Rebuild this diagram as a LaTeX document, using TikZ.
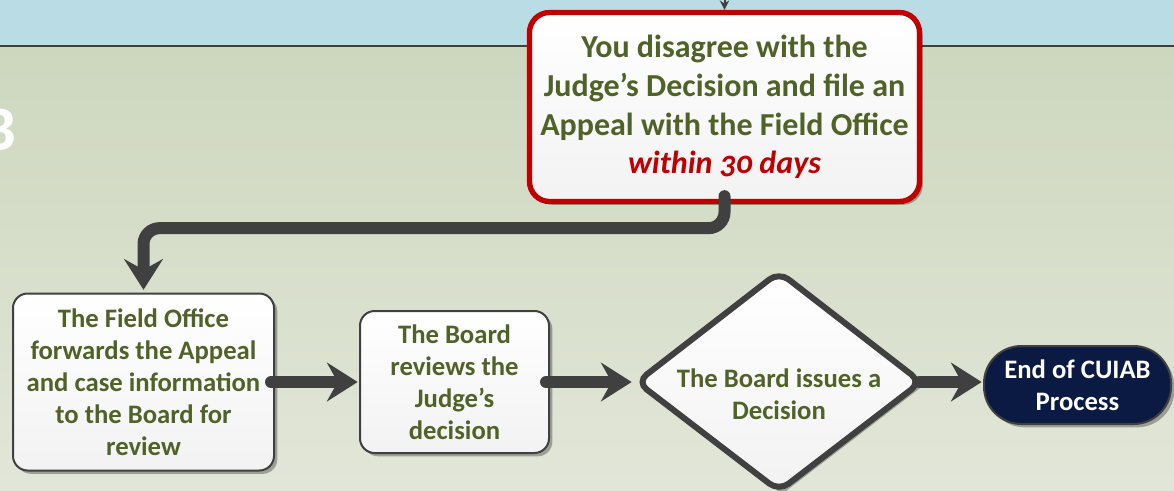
\documentclass[tikz,border=0pt]{standalone}
\usepackage{fontspec}
\setmainfont{Carlito}[Numbers=OldStyle]
\usetikzlibrary{arrows.meta,shadows}
\definecolor{band}{HTML}{B9DCE5}
\definecolor{bgtop}{HTML}{CDD7BE}
\definecolor{bgbot}{HTML}{E2E6D8}
\definecolor{olive}{HTML}{4F6228}
\definecolor{redb}{HTML}{C00000}
\definecolor{conn}{HTML}{404040}
\definecolor{navy}{HTML}{0B1A42}
\tikzset{
  shad/.style={drop shadow={opacity=0.3,shadow xshift=2.5pt,shadow yshift=-2.5pt,fill=black}},
  procbox/.style={draw=conn, line width=1.5pt, rounded corners=11pt, top color=white, bottom color=gray!10,
    text=olive, font=\bfseries\fontsize{20}{24}\selectfont, align=center, inner sep=0pt, shad},
  appealbox/.style={draw=redb, line width=4pt, rounded corners=15pt, top color=white, bottom color=gray!10,
    text=olive, font=\bfseries\fontsize{24}{29}\selectfont, align=center, inner sep=0pt, shad},
  endbox/.style={draw=conn, line width=1.5pt, rounded corners=28pt, fill=navy, text=white,
    font=\bfseries\fontsize{20}{24}\selectfont, align=center, inner sep=0pt, shad},
  flow/.style={draw=conn, line width=9pt, line cap=round,
    -{Stealth[length=23pt,width=29pt,inset=8pt]}},
}
\begin{document}
\begin{tikzpicture}[x=0.75pt,y=-0.75pt]
\useasboundingbox (0,0) rectangle (1174,490);
% background
\fill[band] (0,0) rectangle (1174,46);
\shade[top color=bgtop,bottom color=bgbot] (0,46) rectangle (1174,490);
\draw[conn,line width=1.5pt] (0,46) -- (1174,46);
\node[anchor=east,text=white,font=\bfseries\fontsize{48}{50}\selectfont,inner sep=0pt] (letter) at (17,130) {B};

% nodes
\node[appealbox, minimum width=292.5pt, minimum height=141.75pt] (appeal) at (724.5,107)
  {You disagree with the\\Judge’s Decision and file an\\Appeal with the Field Office\\{\color{redb}\itshape within 30 days}};
\node[procbox, minimum width=195.75pt, minimum height=132.75pt] (fwd) at (143.5,382)
  {The Field Office\\forwards the Appeal\\and case information\\to the Board for\\review};
\node[procbox, minimum width=141.75pt, minimum height=106.5pt] (rev) at (454.5,382)
  {The Board\\reviews the\\Judge’s\\decision};
% diamond
\coordinate (dT) at (779,272);
\coordinate (dR) at (921,382);
\coordinate (dB) at (779,491);
\coordinate (dL) at (637,382);
\fill[black,opacity=0.3] ([shift={(3,3)}]dT) -- ([shift={(3,3)}]dR) -- ([shift={(3,3)}]dB) -- ([shift={(3,3)}]dL) -- cycle;
\draw[conn, line width=4.5pt, rounded corners=9pt, top color=white, bottom color=gray!10]
  (dT) -- (dR) -- (dB) -- (dL) -- cycle;
\node[text=olive, font=\bfseries\fontsize{20}{24}\selectfont, align=center] (dec) at (779,394)
  {The Board issues a\\Decision};
\node[endbox, minimum width=140.25pt, minimum height=58.5pt] (end) at (1077.5,385)
  {End of CUIAB\\Process};

% connectors
\coordinate (src) at (724.5,-10);
\draw[conn, line width=1.5pt, -{Stealth[length=7pt,width=7pt]}] (src) -- (appeal.north);
\draw[flow, rounded corners=12pt] ([yshift=6pt]appeal.south) -- ++(0,32) -| ([yshift=2pt]fwd.north);
\draw[flow] ([xshift=-3pt]fwd.east) -- ([xshift=-1pt]rev.west);
\draw[flow] ([xshift=-3pt]rev.east) -- ([xshift=-4pt]dL);
\draw[flow] ([xshift=-1pt]dR) -- ([xshift=-1pt]end.west |- dR);
\end{tikzpicture}
\end{document}
